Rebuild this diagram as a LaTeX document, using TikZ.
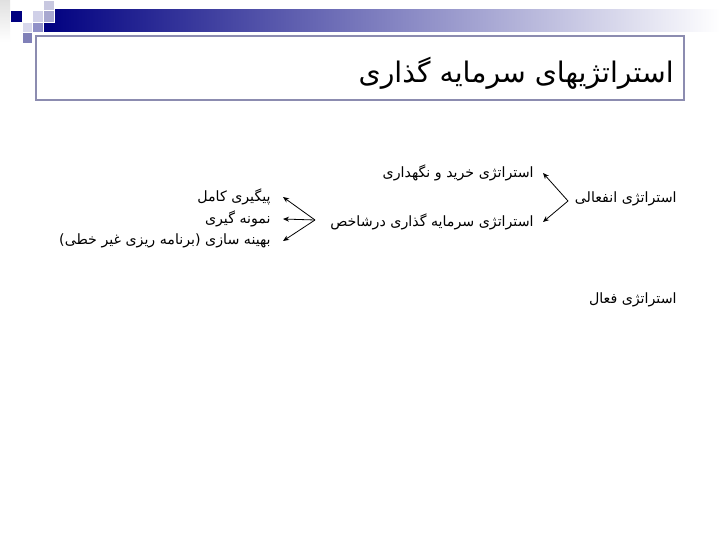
\documentclass[tikz,border=0pt]{standalone}
\usepackage{fontspec}
\usetikzlibrary{arrows.meta}
\TeXXeTstate=1
\newfontfamily\arabicfont[Script=Arabic]{DejaVu Sans}
\definecolor{navy}{RGB}{0,0,128}
\definecolor{framec}{RGB}{140,140,176}

\begin{document}
\begin{tikzpicture}[x=1pt,y=-1pt,>={Stealth[length=6pt,width=5pt]}]
\tikzstyle{sq}=[draw=white,line width=0.4pt]
\tikzstyle{item}=[inner sep=0pt,anchor=east,font=\arabicfont\fontsize{14.2}{17}\selectfont]
\tikzstyle{title}=[inner sep=0pt,anchor=east,font=\arabicfont\fontsize{28.3}{32}\selectfont]
\tikzstyle{every path}=[line width=0.8pt]
\useasboundingbox (0,0) rectangle (720,540);
\fill[white] (0,0) rectangle (720,540);

% header bar and squares
\shade[left color=navy,middle color=navy!55,right color=white] (43,10) rectangle (720,32);
\shade[top color=black!12,bottom color=white] (0,0) rectangle (10,42);
\fill[sq,fill=navy] (10,10) rectangle (22,22);
\fill[sq,fill={rgb,255:red,200;green,200;blue,224}] (43,0) rectangle (54,10);
\filldraw[sq,fill={rgb,255:red,208;green,208;blue,232}] (32,10) rectangle (43,22);
\filldraw[sq,fill={rgb,255:red,168;green,168;blue,208}] (43,10) rectangle (54,22);
\filldraw[sq,fill={rgb,255:red,216;green,216;blue,236}] (22,22) rectangle (32,32);
\filldraw[sq,fill={rgb,255:red,144;green,144;blue,200}] (32,22) rectangle (43,32);
\filldraw[sq,fill={rgb,255:red,128;green,128;blue,184}] (22,32) rectangle (32,43);
\draw[framec,line width=1.5pt] (36,36) rectangle (684,100);

\node[title] (T) at (674,73) {\beginR استراتژیهای سرمایه گذاری\endR};

% passive strategy
\node[item] (pas) at (677,199) {\beginR استراتژی انفعالی\endR};
\node[item] (buy) at (534,173) {\beginR استراتژی خرید و نگهداری\endR};
\node[item] (idx) at (534,222) {\beginR استراتژی سرمایه گذاری درشاخص\endR};
\node[item] (act) at (677,300) {\beginR استراتژی فعال\endR};

% index methods
\node[item] (full) at (271,197) {\beginR پیگیری کامل\endR};
\node[item] (samp) at (271,219) {\beginR نمونه گیری\endR};
\node[item] (opt) at (271,241) {\beginR بهینه سازی (برنامه ریزی غیر خطی)\endR};

\coordinate (vp) at (568,201);
\coordinate (vi) at (315,220);

\draw[->] (vp) -> ([xshift=9pt]buy.east);
\draw[->] (vp) -> ([xshift=9pt]idx.east);
\draw[->] (vi) -> ([xshift=12pt]full.east);
\draw[->] (vi) -> ([xshift=12pt]samp.east);
\draw[->] (vi) -> ([xshift=12pt]opt.east);
\end{tikzpicture}
\end{document}
